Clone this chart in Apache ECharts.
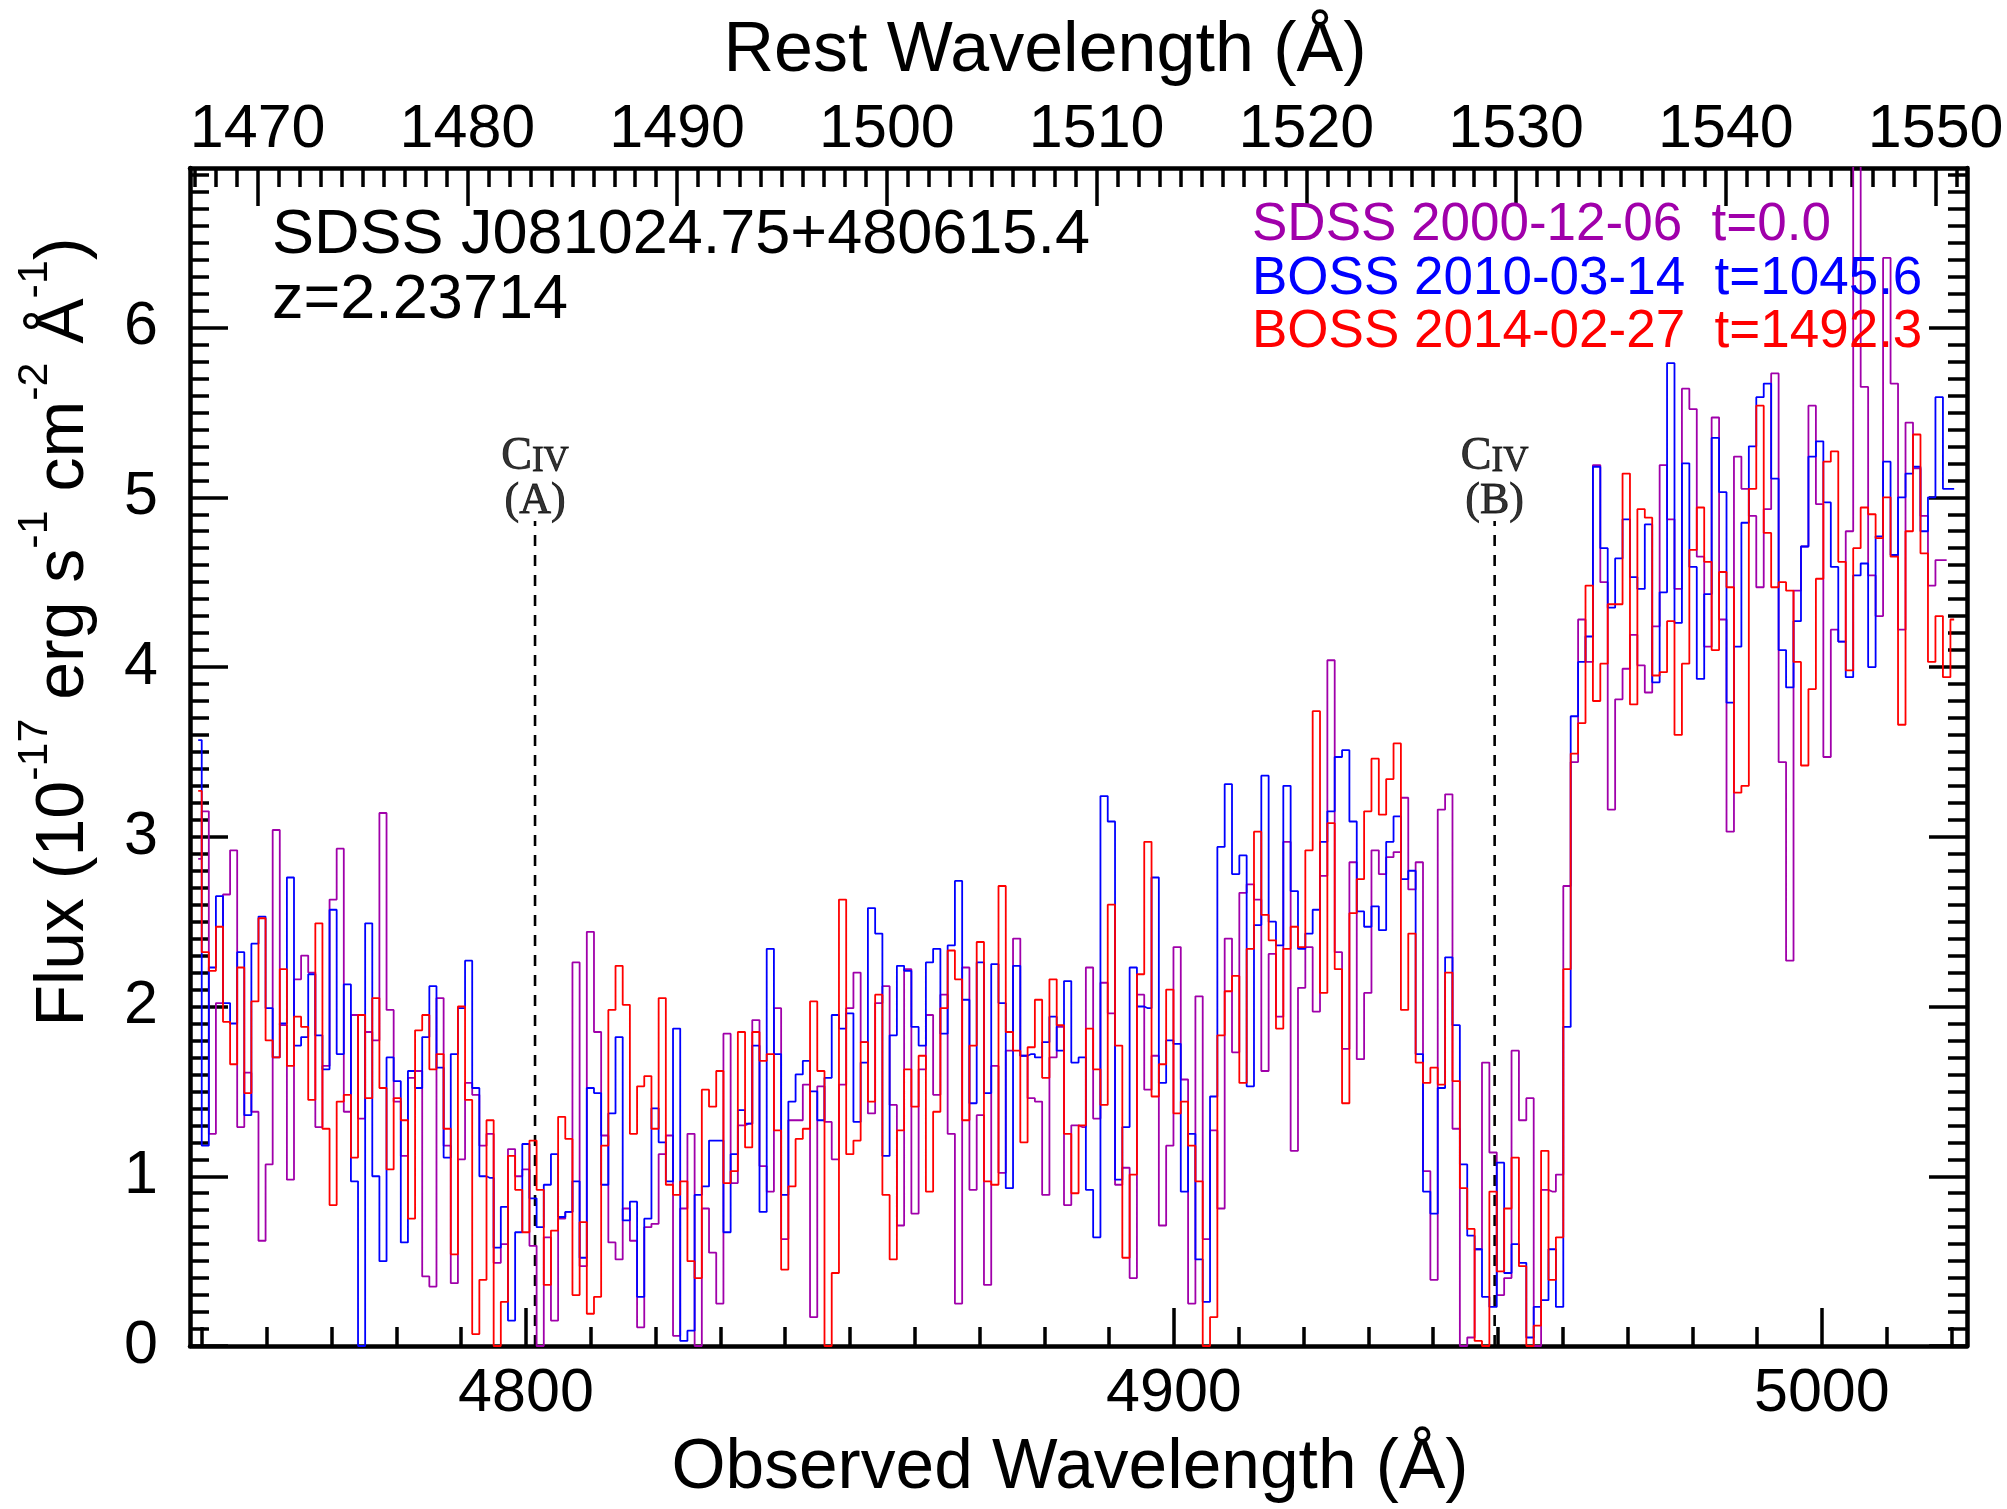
<!DOCTYPE html>
<html>
<head>
<meta charset="utf-8">
<script src="https://cdn.jsdelivr.net/npm/echarts@6/dist/echarts.min.js"></script>
<style>
  html, body { margin: 0; padding: 0; background: #fff; }
  #chart { width: 2007px; height: 1509px; }
</style>
</head>
<body>
<div id="chart"></div>
<script>
// ---------------- data ----------------
const redshift = 2.23714;
// SDSS/BOSS log-lambda pixel grid (log10 of the centre of the first pixel, and step)
const loglamStart = 3.67664;
const loglamStep = 0.0001;

const fluxSDSS2000 = [
  2.87, 3.15, 1.25, 2.02, 2.66, 2.92, 1.29, 1.61, 1.38, 0.62,
  1.07, 3.04, 1.89, 0.98, 2.16, 2.30, 2.20, 1.29, 1.65, 2.63,
  2.93, 1.38, 1.95, 1.34, 1.85, 1.80, 3.14, 1.98, 1.44, 1.12,
  1.58, 1.62, 0.41, 0.35, 2.05, 1.18, 0.37, 1.10, 1.55, 1.48,
  1.18, 1.25, 0.49, 0.60, 1.16, 1.00, 1.04, 0.59, 0.00, 0.64,
  0.15, 0.75, 0.79, 2.26, 0.47, 2.44, 1.85, 1.24, 0.61, 0.51,
  0.81, 0.62, 0.11, 0.70, 0.72, 1.13, 1.24, 0.06, 0.81, 1.25,
  0.00, 0.81, 0.55, 0.25, 1.84, 0.96, 1.30, 1.31, 1.92, 1.06,
  0.91, 1.99, 0.63, 1.33, 1.33, 1.54, 0.17, 1.53, 1.32, 1.10,
  1.54, 1.99, 2.20, 1.79, 1.37, 2.02, 2.12, 1.42, 0.71, 2.22,
  0.78, 1.63, 1.95, 1.48, 2.07, 1.25, 0.25, 2.23, 0.92, 1.36,
  0.36, 1.65, 1.02, 1.74, 2.40, 1.71, 1.46, 1.44, 0.89, 1.70,
  1.88, 0.83, 1.30, 1.29, 2.23, 1.34, 2.14, 1.96, 0.95, 1.05,
  0.40, 2.07, 1.51, 1.71, 0.71, 1.18, 2.35, 1.57, 0.25, 2.06,
  0.63, 1.27, 0.81, 2.40, 1.73, 2.67, 2.72, 2.63, 1.62, 2.31,
  1.94, 2.97, 1.15, 2.11, 2.35, 1.97, 2.77, 4.04, 2.32, 1.75,
  2.85, 1.69, 2.08, 2.92, 2.78, 2.88, 2.91, 3.23, 2.69, 2.85,
  1.03, 0.39, 3.16, 3.25, 1.28, 0.00, 0.05, 0.57, 1.67, 1.14,
  0.30, 0.40, 1.74, 1.33, 1.46, 0.00, 0.92, 0.91, 1.01, 2.71,
  3.44, 4.28, 4.03, 5.19, 4.50, 3.16, 3.81, 3.99, 4.19, 4.01,
  3.85, 4.24, 5.19, 4.87, 4.46, 5.64, 5.52, 4.65, 4.12, 5.47,
  4.28, 3.03, 5.24, 5.05, 4.89, 4.47, 4.93, 5.73, 3.44, 2.27,
  4.45, 4.71, 5.54, 4.96, 3.47, 4.22, 4.15, 4.80, 7.50, 5.65,
  4.54, 4.30, 6.41, 5.67, 4.22, 5.44, 5.17, 4.89, 4.48, 4.63,
  4.63
];

const fluxBOSS2010 = [
  3.57, 1.18, 2.23, 2.65, 2.02, 1.90, 2.32, 1.36, 2.37, 2.53,
  1.99, 1.70, 1.90, 2.76, 1.77, 1.82, 2.19, 1.83, 1.63, 2.57,
  1.72, 2.13, 0.97, 0.00, 2.49, 1.00, 0.50, 1.70, 1.56, 0.61,
  1.62, 1.52, 1.82, 2.12, 1.64, 1.11, 1.72, 1.99, 2.27, 1.52,
  1.00, 0.99, 0.58, 0.82, 0.15, 0.67, 1.19, 0.87, 0.70, 0.95,
  1.13, 0.76, 0.79, 0.97, 0.52, 1.52, 1.49, 0.95, 1.37, 1.82,
  0.74, 0.85, 0.29, 0.75, 1.40, 1.20, 0.97, 1.87, 0.03, 0.09,
  0.89, 0.94, 1.21, 1.21, 0.67, 1.13, 1.39, 1.31, 1.77, 0.79,
  2.34, 1.72, 0.89, 1.44, 1.60, 1.68, 1.50, 1.33, 1.58, 1.95,
  1.87, 1.96, 1.32, 1.67, 2.58, 2.43, 1.12, 1.83, 2.24, 2.21,
  1.88, 1.77, 2.26, 2.34, 1.84, 2.36, 2.74, 2.04, 1.43, 2.26,
  1.49, 2.25, 2.02, 0.93, 2.24, 1.71, 1.72, 1.70, 1.79, 1.94,
  1.74, 2.15, 1.67, 1.70, 0.92, 0.64, 3.24, 3.09, 0.98, 1.29,
  2.23, 2.00, 1.99, 2.76, 1.55, 1.80, 1.78, 0.91, 1.25, 0.51,
  0.26, 1.47, 2.94, 3.31, 2.78, 2.89, 1.53, 2.48, 3.36, 2.50,
  2.36, 3.30, 2.68, 2.34, 2.43, 2.57, 2.97, 3.15, 3.47, 3.51,
  3.09, 2.56, 2.47, 2.59, 2.45, 2.97, 3.12, 2.75, 2.80, 1.72,
  0.91, 0.78, 1.52, 2.29, 1.89, 1.07, 0.65, 0.57, 0.29, 0.23,
  1.08, 0.43, 0.60, 0.49, 0.05, 0.23, 0.27, 0.57, 0.23, 1.88,
  3.71, 4.03, 4.18, 5.18, 4.70, 4.35, 4.64, 4.87, 4.53, 4.46,
  4.84, 3.91, 4.44, 5.79, 4.26, 5.20, 4.59, 3.93, 4.43, 5.35,
  5.03, 3.79, 4.12, 4.85, 5.30, 5.59, 5.67, 5.11, 4.10, 3.88,
  4.27, 4.71, 5.24, 5.33, 4.97, 4.59, 4.15, 3.94, 4.54, 4.61,
  4.00, 4.77, 5.21, 4.66, 5.00, 5.14, 5.18, 4.80, 5.00, 5.59,
  5.05, 5.05
];

const fluxBOSS2014 = [
  3.27, 2.32, 2.21, 2.47, 1.91, 1.66, 2.23, 1.49, 2.03, 2.52,
  1.80, 1.70, 2.22, 1.65, 1.94, 1.88, 1.45, 2.49, 1.28, 0.83,
  1.44, 1.48, 1.11, 1.95, 1.46, 2.05, 1.52, 1.04, 1.46, 1.33,
  0.75, 1.86, 1.95, 1.63, 1.72, 1.28, 0.54, 2.00, 1.45, 0.07,
  0.39, 1.33, 0.00, 0.26, 1.12, 0.92, 0.67, 1.21, 0.92, 0.36,
  0.68, 1.35, 1.22, 0.30, 0.73, 0.19, 0.29, 1.18, 1.98, 2.24,
  2.01, 1.25, 1.53, 1.59, 1.28, 2.05, 0.95, 0.89, 0.97, 0.50,
  0.40, 1.51, 1.41, 1.62, 0.96, 1.03, 1.85, 1.17, 1.85, 1.68,
  1.72, 1.27, 0.45, 0.94, 1.22, 1.28, 2.03, 1.62, 0.00, 0.43,
  2.63, 1.13, 1.21, 1.79, 1.44, 2.07, 0.89, 0.51, 1.27, 1.63,
  1.41, 1.71, 0.91, 1.38, 1.99, 2.33, 2.16, 1.33, 1.77, 2.38,
  0.97, 0.95, 2.71, 1.85, 1.74, 1.20, 1.76, 2.04, 1.58, 2.16,
  1.89, 1.25, 0.90, 1.30, 1.87, 1.63, 1.42, 2.60, 1.77, 0.52,
  1.01, 2.19, 2.97, 1.47, 1.66, 2.10, 1.37, 1.44, 1.18, 0.97,
  0.00, 0.17, 1.83, 2.09, 2.18, 1.55, 2.34, 3.03, 2.54, 2.39,
  1.87, 2.34, 2.47, 2.35, 2.92, 3.74, 2.08, 3.08, 2.22, 1.43,
  2.55, 2.75, 3.15, 3.46, 3.13, 3.34, 3.55, 1.98, 2.43, 1.67,
  1.55, 1.64, 1.54, 2.20, 1.56, 0.93, 0.69, 0.03, 0.00, 0.91,
  0.44, 0.81, 1.11, 0.47, 0.00, 0.12, 1.15, 0.39, 0.64, 2.22,
  3.49, 3.67, 4.48, 3.80, 4.02, 4.37, 4.37, 5.14, 3.78, 4.93,
  4.88, 3.95, 3.97, 4.27, 3.60, 4.02, 4.69, 4.94, 4.62, 4.10,
  4.56, 4.47, 3.26, 3.30, 5.05, 5.54, 4.79, 4.47, 4.50, 4.45,
  4.03, 3.42, 3.87, 4.52, 5.21, 5.27, 4.62, 3.98, 4.70, 4.94,
  4.90, 4.76, 5.00, 4.65, 3.66, 4.80, 5.37, 4.67, 4.03, 4.30,
  3.94, 4.28
];

const seriesNames = ['SDSS 2000-12-06  t=0.0', 'BOSS 2010-03-14  t=1045.6', 'BOSS 2014-02-27  t=1492.3'];
const seriesColors = ['#A000AA', '#0000FF', '#FF0000'];

// C IV absorption markers (observed wavelength) and label tags
const civWave = [4801.4, 4949.5];
const civTags = ['A', 'B'];
const civTop = 4.86;

// axis ranges and tick labels
const obsMin = 4748.15, obsMax = 5022.4;
const fluxMin = 0, fluxMax = 6.94;
const obsMajorTicks = [4800, 4900, 5000];
const restMajorTicks = [1470, 1480, 1490, 1500, 1510, 1520, 1530, 1540, 1550];
const fluxMajorTicks = [0, 1, 2, 3, 4, 5, 6];

// ---------------- build ----------------
const obsMinorTicks = []; for (let v = 4750; v <= 5020; v += 10) obsMinorTicks.push(v);
const restMinorTicks = []; for (let v = 1467; v <= 1551; v += 1) restMinorTicks.push(v);
const fluxMinorTicks = []; for (let i = 0; i <= 69; i++) fluxMinorTicks.push(+(i * 0.1).toFixed(1));

function gridOf(flux) {
  return flux.map((f, i) => [Math.pow(10, loglamStart + i * loglamStep), f]);
}

const SANS = 'Liberation Sans, Arial, Helvetica, sans-serif';
const SERIF = 'Liberation Serif, Times New Roman, serif';
const LW = 4.5, TW = 3.5, MAJ = 38, MIN = 19;

function xAxisDef(pos, min, max, ticks, len, withLine, labels) {
  return {
    type: 'value', position: pos, min: min, max: max,
    axisLine: { show: withLine, onZero: false, lineStyle: { color: '#000', width: LW } },
    axisTick: { show: true, inside: true, length: len, customValues: ticks, lineStyle: { color: '#000', width: TW } },
    axisLabel: labels ? {
      show: true, customValues: labels, margin: pos === 'top' ? 7 : 18,
      fontSize: 61, fontFamily: SANS, color: '#000', formatter: v => String(Math.round(v))
    } : { show: false },
    splitLine: { show: false }, minorTick: { show: false }
  };
}
function yAxisDef(pos, ticks, len, withLine, labels) {
  return {
    type: 'value', position: pos, min: fluxMin, max: fluxMax,
    axisLine: { show: withLine, onZero: false, lineStyle: { color: '#000', width: LW } },
    axisTick: { show: true, inside: true, length: len, customValues: ticks, lineStyle: { color: '#000', width: TW } },
    axisLabel: labels ? {
      show: true, customValues: labels, margin: 32,
      fontSize: 61, fontFamily: SANS, color: '#000', formatter: v => String(Math.round(v))
    } : { show: false },
    splitLine: { show: false }, minorTick: { show: false }
  };
}

const restMin = obsMin / (1 + redshift), restMax = obsMax / (1 + redshift);

const spectra = [fluxSDSS2000, fluxBOSS2010, fluxBOSS2014].map((flux, k) => ({
  type: 'line', name: seriesNames[k], step: 'middle', data: gridOf(flux),
  xAxisIndex: 0, yAxisIndex: 0, symbol: 'none', showSymbol: false, clip: true,
  lineStyle: { color: seriesColors[k], width: 1.8 }, z: 3 + k, silent: true
}));

const civLines = civWave.map(w => ({
  type: 'line', data: [[w, 0], [w, civTop]], xAxisIndex: 0, yAxisIndex: 0,
  symbol: 'none', silent: true, z: 2,
  lineStyle: { color: '#000', width: 2.6, type: [11, 9] }
}));

const civRich = (size, lh, va) => ({
  fontFamily: SERIF, fontSize: size, lineHeight: lh, color: '#000',
  textBorderColor: '#000', textBorderWidth: 0.9, verticalAlign: va
});
const civLabels = {
  type: 'scatter', xAxisIndex: 0, yAxisIndex: 0, silent: true, z: 10,
  symbolSize: 1, itemStyle: { color: 'rgba(0,0,0,0)' },
  data: civWave.map((w, i) => ({
    value: [w, civTop],
    label: { formatter: '{c|C}{iv|IV}\n{p|(' + civTags[i] + ')}' }
  })),
  label: {
    show: true, position: 'top', distance: -3, color: '#000',
    rich: {
      c: civRich(46, 44, 'bottom'),
      iv: civRich(35, 36, 'bottom'),
      p: civRich(44, 44, 'middle')
    }
  }
};

function txt(x, y, text, size, color, align) {
  return {
    type: 'text', x: x, y: y, silent: true, z: 20,
    style: {
      text: text, fontSize: size, fontFamily: SANS, fill: color,
      align: align || 'left', verticalAlign: 'middle',
      textAlign: align || 'left', textVerticalAlign: 'middle'
    }
  };
}

const supStyle = { fontSize: 43, fontFamily: SANS, fill: '#000', color: '#000', lineHeight: 40, verticalAlign: 'top' };
const mainStyle = { fontSize: 68, fontFamily: SANS, fill: '#000', color: '#000', lineHeight: 100 };

const option = {
  animation: false,
  backgroundColor: '#fff',
  grid: { left: 190, right: 40, top: 168, bottom: 163, containLabel: false },
  xAxis: [
    xAxisDef('bottom', obsMin, obsMax, obsMajorTicks, MAJ, true, obsMajorTicks),
    xAxisDef('bottom', obsMin, obsMax, obsMinorTicks, MIN, false, null),
    xAxisDef('top', restMin, restMax, restMajorTicks, MAJ, true, restMajorTicks),
    xAxisDef('top', restMin, restMax, restMinorTicks, MIN, false, null)
  ],
  yAxis: [
    yAxisDef('left', fluxMajorTicks, MAJ, true, fluxMajorTicks),
    yAxisDef('left', fluxMinorTicks, MIN, false, null),
    yAxisDef('right', fluxMajorTicks, MAJ, true, null),
    yAxisDef('right', fluxMinorTicks, MIN, false, null)
  ],
  series: [...civLines, ...spectra, civLabels],
  graphic: { elements: [
    txt(272, 236, 'SDSS J081024.75+480615.4', 63, '#000'),
    txt(272, 301, 'z=2.23714', 63, '#000'),
    txt(1252, 225, seriesNames[0], 53, seriesColors[0]),
    txt(1252, 279, seriesNames[1], 53, seriesColors[1]),
    txt(1252, 332, seriesNames[2], 53, seriesColors[2]),
    txt(1070, 1469, 'Observed Wavelength (Å)', 69.5, '#000', 'center'),
    txt(1045, 52, 'Rest Wavelength (Å)', 70, '#000', 'center'),
    {
      type: 'text', x: 64, y: 632, rotation: Math.PI / 2, silent: true, z: 20,
      style: {
        text: '{m|Flux (10}{s|-17}{m| erg s}{s|-1}{m| cm}{s|-2}{m| Å}{s|-1}{m|)}',
        align: 'center', verticalAlign: 'middle', textAlign: 'center', textVerticalAlign: 'middle',
        fill: '#000', fontSize: 68, fontFamily: SANS,
        rich: { m: mainStyle, s: supStyle }
      }
    }
  ] }
};

const chart = echarts.init(document.getElementById('chart'), null, { renderer: 'canvas', width: 2007, height: 1509 });
chart.setOption(option);
</script>
</body>
</html>
